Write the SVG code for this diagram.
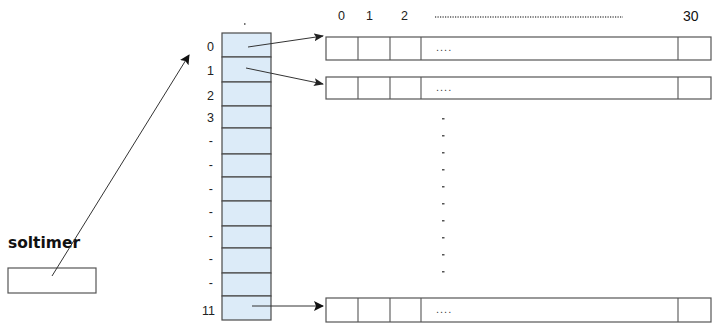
<svg xmlns="http://www.w3.org/2000/svg" width="713" height="324" viewBox="0 0 713 324">
  <style>
    .cell { fill: #dcebf8; stroke: #4a4a4a; stroke-width: 1.2; }
    .box { fill: #ffffff; stroke: #555555; stroke-width: 1.2; }
    .div { stroke: #555555; stroke-width: 1.1; }
    .lbl { font-family: "Liberation Sans", Arial, sans-serif; font-size: 12.5px; fill: #222222; }
    .dots { font-family: "Liberation Sans", Arial, sans-serif; font-size: 11px; fill: #444444; letter-spacing: 1px; }
    .conn { stroke: #333333; stroke-width: 1; fill: none; }
  </style>
  <defs>
    <marker id="ah" markerWidth="10" markerHeight="8" refX="9" refY="4" orient="auto" markerUnits="userSpaceOnUse">
      <path d="M0,0 L10,4 L0,8 L2,4 Z" fill="#222222"/>
    </marker>
    <marker id="ah2" markerWidth="10" markerHeight="10" refX="9" refY="5" orient="auto" markerUnits="userSpaceOnUse">
      <path d="M0,0 L10,5 L0,10 L2,5 Z" fill="#111111"/>
    </marker>
  </defs>

  <!-- index column: 12 slots -->
  <g id="table">
    <rect class="cell" x="222" y="33" width="49" height="24"/>
    <rect class="cell" x="222" y="57" width="49" height="25"/>
    <rect class="cell" x="222" y="82" width="49" height="24"/>
    <rect class="cell" x="222" y="106" width="49" height="22"/>
    <rect class="cell" x="222" y="128" width="49" height="26"/>
    <rect class="cell" x="222" y="154" width="49" height="23"/>
    <rect class="cell" x="222" y="177" width="49" height="24"/>
    <rect class="cell" x="222" y="201" width="49" height="25"/>
    <rect class="cell" x="222" y="226" width="49" height="22"/>
    <rect class="cell" x="222" y="248" width="49" height="25"/>
    <rect class="cell" x="222" y="273" width="49" height="23"/>
    <rect class="cell" x="222" y="296" width="49" height="24"/>
    <line x1="244" y1="24" x2="245.5" y2="24" stroke="#444" stroke-width="1.5"/>
    <g class="lbl" text-anchor="end">
      <text x="214" y="51">0</text>
      <text x="214" y="75">1</text>
      <text x="214" y="100">2</text>
      <text x="214" y="122">3</text>
      <text x="213" y="145">-</text>
      <text x="213" y="169">-</text>
      <text x="213" y="193">-</text>
      <text x="213" y="216">-</text>
      <text x="213" y="240">-</text>
      <text x="213" y="263">-</text>
      <text x="213" y="287">-</text>
      <text x="215" y="315">11</text>
    </g>
  </g>

  <!-- column header -->
  <g id="header">
    <text class="lbl" x="338" y="20" font-size="11.5">0</text>
    <text class="lbl" x="366" y="20" font-size="11.5">1</text>
    <text class="lbl" x="401" y="20" font-size="11.5">2</text>
    <line x1="435" y1="17" x2="623" y2="17" stroke="#555" stroke-width="1.3" stroke-dasharray="1.2 1.3"/>
    <text x="683" y="21" font-family="Liberation Sans, Arial, sans-serif" font-size="14" fill="#111">30</text>
  </g>

  <!-- row arrays -->
  <g id="row0">
    <rect class="box" x="326" y="37" width="385" height="23"/>
    <line class="div" x1="358" y1="37" x2="358" y2="60"/>
    <line class="div" x1="390" y1="37" x2="390" y2="60"/>
    <line class="div" x1="421" y1="37" x2="421" y2="60"/>
    <line class="div" x1="678" y1="37" x2="678" y2="60"/>
    <text class="dots" x="436" y="51">....</text>
  </g>
  <g id="row1">
    <rect class="box" x="326" y="77" width="385" height="22"/>
    <line class="div" x1="358" y1="77" x2="358" y2="99"/>
    <line class="div" x1="390" y1="77" x2="390" y2="99"/>
    <line class="div" x1="421" y1="77" x2="421" y2="99"/>
    <line class="div" x1="678" y1="77" x2="678" y2="99"/>
    <text class="dots" x="436" y="91">....</text>
  </g>
  <g id="row11">
    <rect class="box" x="326" y="298" width="385" height="24"/>
    <line class="div" x1="358" y1="298" x2="358" y2="322"/>
    <line class="div" x1="390" y1="298" x2="390" y2="322"/>
    <line class="div" x1="421" y1="298" x2="421" y2="322"/>
    <line class="div" x1="678" y1="298" x2="678" y2="322"/>
    <text class="dots" x="436" y="313">....</text>
  </g>

  <!-- vertical ellipsis between rows -->
  <g id="ellipsis" fill="#555">
    <rect x="442" y="118" width="2.5" height="1.5"/>
    <rect x="442" y="135" width="2.5" height="1.5"/>
    <rect x="442" y="152" width="2.5" height="1.5"/>
    <rect x="442" y="169" width="2.5" height="1.5"/>
    <rect x="442" y="186" width="2.5" height="1.5"/>
    <rect x="442" y="203" width="2.5" height="1.5"/>
    <rect x="442" y="220" width="2.5" height="1.5"/>
    <rect x="442" y="237" width="2.5" height="1.5"/>
    <rect x="442" y="254" width="2.5" height="1.5"/>
    <rect x="442" y="271" width="2.5" height="1.5"/>
  </g>

  <!-- soltimer variable -->
  <g id="soltimer">
    <text x="8" y="248" font-family="DejaVu Sans, Verdana, sans-serif" font-size="15" font-weight="bold" fill="#111" textLength="72" lengthAdjust="spacingAndGlyphs">soltimer</text>
    <rect x="8" y="268" width="88" height="25" fill="#fff" stroke="#555" stroke-width="1.2"/>
  </g>

  <!-- connectors -->
  <g id="connectors">
    <line class="conn" x1="248" y1="47" x2="323" y2="36" marker-end="url(#ah)"/>
    <line class="conn" x1="246" y1="68" x2="323" y2="84" marker-end="url(#ah)"/>
    <line class="conn" x1="252" y1="306" x2="323" y2="306" marker-end="url(#ah2)"/>
    <line class="conn" x1="52" y1="276" x2="189" y2="55" marker-end="url(#ah2)"/>
  </g>
</svg>
